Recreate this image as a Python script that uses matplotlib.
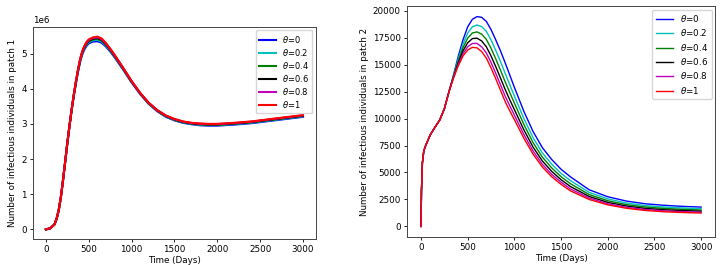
"""Infectious individuals in patch 1 and patch 2 for several theta values."""
import matplotlib
matplotlib.use("Agg")
import matplotlib.pyplot as plt
import numpy as np

LABELS = [r"$\theta$=0", r"$\theta$=0.2", r"$\theta$=0.4",
          r"$\theta$=0.6", r"$\theta$=0.8", r"$\theta$=1"]
COLORS = ["b", "c", "g", "k", "m", "r"]

# patch 1 (values in millions)
t1 = [0, 50, 100, 125, 150, 175, 200, 225, 250, 275, 300, 325, 350, 375, 400,
      425, 450, 475, 500, 550, 600, 650, 700, 750, 800, 900, 1000, 1100, 1200,
      1300, 1400, 1500, 1600, 1700, 1800, 1900, 2000, 2200, 2400, 2600, 2800,
      3000]
p1_th0 = [0.0, 0.03, 0.14, 0.3, 0.55, 0.92, 1.4, 1.92, 2.45, 2.93, 3.38, 3.79,
          4.15, 4.48, 4.77, 4.98, 5.12, 5.22, 5.29, 5.34, 5.35, 5.31, 5.2,
          5.06, 4.9, 4.55, 4.18, 3.85, 3.57, 3.36, 3.2, 3.1, 3.03, 2.99, 2.96,
          2.95, 2.95, 2.98, 3.02, 3.08, 3.14, 3.2]
p1_th02 = [0.0, 0.03, 0.14, 0.3, 0.55, 0.92, 1.4, 1.92, 2.45, 2.933, 3.386,
           3.799, 4.165, 4.501, 4.794, 5.007, 5.15, 5.253, 5.323, 5.376, 5.389,
           5.346, 5.23, 5.084, 4.921, 4.565, 4.192, 3.859, 3.579, 3.369, 3.212,
           3.112, 3.042, 3.002, 2.975, 2.965, 2.965, 2.995, 3.035, 3.095,
           3.155, 3.215]
p1_th04 = [0.0, 0.03, 0.14, 0.3, 0.55, 0.92, 1.4, 1.92, 2.45, 2.935, 3.39,
           3.805, 4.175, 4.515, 4.81, 5.025, 5.17, 5.275, 5.345, 5.4, 5.415,
           5.37, 5.25, 5.1, 4.935, 4.575, 4.2, 3.865, 3.585, 3.375, 3.22, 3.12,
           3.05, 3.01, 2.985, 2.975, 2.975, 3.005, 3.045, 3.105, 3.165, 3.225]
p1_th06 = [0.0, 0.03, 0.14, 0.3, 0.55, 0.92, 1.4, 1.92, 2.45, 2.937, 3.394,
           3.811, 4.185, 4.529, 4.826, 5.043, 5.19, 5.297, 5.367, 5.424, 5.441,
           5.394, 5.27, 5.116, 4.949, 4.585, 4.208, 3.871, 3.591, 3.381, 3.228,
           3.128, 3.058, 3.018, 2.995, 2.985, 2.985, 3.015, 3.055, 3.115,
           3.175, 3.235]
p1_th08 = [0.0, 0.03, 0.14, 0.3, 0.55, 0.92, 1.4, 1.92, 2.45, 2.939, 3.397,
           3.816, 4.193, 4.54, 4.838, 5.057, 5.205, 5.314, 5.384, 5.442, 5.461,
           5.412, 5.285, 5.128, 4.96, 4.593, 4.214, 3.876, 3.596, 3.386, 3.234,
           3.134, 3.064, 3.024, 3.003, 2.993, 2.993, 3.023, 3.063, 3.123,
           3.183, 3.243]
p1_th1 = [0.0, 0.03, 0.14, 0.3, 0.55, 0.92, 1.4, 1.92, 2.45, 2.94, 3.4, 3.82,
          4.2, 4.55, 4.85, 5.07, 5.22, 5.33, 5.4, 5.46, 5.48, 5.43, 5.3, 5.14,
          4.97, 4.6, 4.22, 3.88, 3.6, 3.39, 3.24, 3.14, 3.07, 3.03, 3.01, 3.0,
          3.0, 3.03, 3.07, 3.13, 3.19, 3.25]

# patch 2
t2 = [0, 5, 15, 30, 50, 100, 150, 200, 250, 300, 350, 400, 450, 500, 550, 600,
      650, 700, 750, 800, 850, 900, 950, 1000, 1100, 1200, 1300, 1400, 1500,
      1600, 1800, 2000, 2200, 2400, 2600, 2800, 3000]
p2_th0 = [0, 3300, 5900, 7000, 7500, 8500, 9200, 9850, 10900, 12500, 14100,
          15800, 17300, 18500, 19200, 19450, 19380, 19000, 18250, 17300, 16300,
          15200, 14050, 12900, 10700, 8800, 7300, 6200, 5300, 4600, 3400, 2750,
          2350, 2100, 1960, 1860, 1790]
p2_th02 = [0, 3300, 5900, 7000, 7500, 8500, 9200, 9850, 10900, 12500, 14020,
           15560, 16900, 17920, 18500, 18670, 18520, 18080, 17290, 16330,
           15310, 14230, 13150, 12090, 10030, 8230, 6810, 5770, 4920, 4250,
           3160, 2550, 2170, 1930, 1800, 1710, 1640]
p2_th04 = [0, 3300, 5900, 7000, 7500, 8500, 9200, 9850, 10900, 12500, 13950,
           15360, 16570, 17450, 17930, 18030, 17820, 17330, 16510, 15540,
           14510, 13440, 12420, 11430, 9480, 7770, 6420, 5420, 4610, 3960,
           2960, 2380, 2020, 1800, 1670, 1580, 1520]
p2_th06 = [0, 3300, 5900, 7000, 7500, 8500, 9200, 9850, 10900, 12500, 13890,
           15180, 16270, 17020, 17410, 17450, 17190, 16650, 15800, 14820,
           13780, 12720, 11750, 10830, 8980, 7350, 6060, 5100, 4330, 3700,
           2780, 2230, 1890, 1670, 1550, 1470, 1410]
p2_th08 = [0, 3300, 5900, 7000, 7500, 8500, 9200, 9850, 10900, 12500, 13840,
           15030, 16010, 16650, 16960, 16960, 16650, 16080, 15200, 14200,
           13160, 12100, 11190, 10320, 8550, 6990, 5750, 4820, 4100, 3480,
           2630, 2100, 1770, 1570, 1440, 1370, 1320]
p2_th1 = [0, 3300, 5900, 7000, 7500, 8500, 9200, 9850, 10900, 12500, 13800,
          14900, 15800, 16350, 16600, 16550, 16200, 15600, 14700, 13700, 12650,
          11600, 10720, 9900, 8200, 6700, 5500, 4600, 3900, 3300, 2500, 2000,
          1680, 1480, 1360, 1290, 1240]

patch1 = [p1_th0, p1_th02, p1_th04, p1_th06, p1_th08, p1_th1]
patch2 = [p2_th0, p2_th02, p2_th04, p2_th06, p2_th08, p2_th1]

plt.rcParams.update({"font.size": 6.3})

fig = plt.figure(figsize=(7.26, 2.65), dpi=100)
ax1 = fig.add_axes([0.0455, 0.098, 0.3895, 0.80])
ax2 = fig.add_axes([0.5606, 0.106, 0.4244, 0.871])

for ys, c, lab in zip(patch1, COLORS, LABELS):
    ax1.plot(t1, np.array(ys) * 1e6, color=c, lw=1.5, label=lab)
ax1.set_xlabel("Time (Days)", labelpad=1)
ax1.set_ylabel("Number of infectious individuals in patch 1", labelpad=3)
ax1.legend(loc="upper right", fontsize=6.0, labelspacing=0.25,
           borderaxespad=0.4)

for ys, c, lab in zip(patch2, COLORS, LABELS):
    ax2.plot(t2, ys, color=c, lw=1.0, label=lab)
ax2.set_xlabel("Time (Days)", labelpad=1)
ax2.set_ylabel("Number of infectious individuals in patch 2", labelpad=3)
ax2.legend(loc="upper right", fontsize=6.3, labelspacing=0.38,
           borderaxespad=0.4)

for ax in (ax1, ax2):
    ax.tick_params(length=2.5, width=0.6, pad=2)
    for s in ax.spines.values():
        s.set_linewidth(0.7)
        s.set_color("#444444")

fig.savefig("out.png", dpi=100)
